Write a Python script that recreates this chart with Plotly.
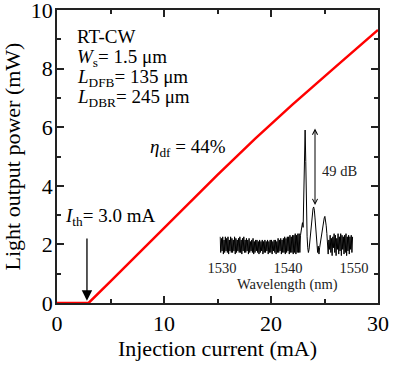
import plotly.graph_objects as go

# Main L-I curve
current_mA = [0, 1, 2, 2.95, 5, 9, 12, 15, 18.5, 22, 26, 30]
power_mW = [0, 0, 0, 0.0, 0.74, 2.20, 3.29, 4.37, 5.60, 6.77, 8.05, 9.32]

# Inset spectrum (dB, relative to main peak), sampled every 0.1 nm from 1529.7 nm
spec_start_nm = 1529.7
spec_step_nm = 0.1
spec_dB = [
    -68, -78, -69, -77, -68, -79, -70, -78, -68, -77, -69, -78, -68, -79, -70, -77, -68, -78, -69, -78,
    -70, -77, -68, -79, -69, -78, -70, -77, -69, -78, -68, -78, -70, -79, -69, -77, -68, -78, -70, -78,
    -69, -77, -70, -79, -69, -78, -71, -77, -70, -78, -69, -79, -71, -78, -70, -77, -70, -78, -71, -79,
    -70, -78, -71, -77, -70, -79, -71, -78, -70, -78, -71, -77, -70, -79, -71, -78, -70, -78, -70, -79,
    -71, -77, -70, -78, -70, -79, -71, -78, -69, -78, -70, -77, -69, -79, -70, -78, -69, -78, -68, -79,
    -69, -78, -68, -77, -68, -79, -67, -78, -68, -78, -67, -79, -67, -78, -66, -79, -67, -78, -66, -78,
    -66, -78, -67,
    -64, -61, -59, -62, -45, -12, 0, -20, -58, -68, -75, -78, -76, -72, -66, -60, -56, -52, -50, -49,
    -51, -56, -61, -66, -72, -78, -74, -79, -75, -72, -68, -65, -62, -59, -57, -56, -55, -57, -61, -66,
    -72, -79, -70, -76, -67, -78, -69, -80, -68, -75, -66, -78, -67, -80, -69, -76, -66, -79, -68, -77,
    -66, -80, -67, -76, -68, -79, -67, -78, -66, -80, -68, -77, -67, -79, -68, -76, -67, -78, -68,
]
spec_nm = [round(spec_start_nm + spec_step_nm * i, 2) for i in range(len(spec_dB))]

x_ticks = [0, 10, 20, 30]
y_ticks = [0, 2, 4, 6, 8, 10]
inset_ticks = [1530, 1540, 1550]

FONT = "Liberation Serif, Times New Roman, serif"

fig = go.Figure()
fig.add_trace(go.Scatter(x=current_mA, y=power_mW, mode="lines",
                         line=dict(color="#ff0000", width=2.5),
                         cliponaxis=False, showlegend=False))
fig.add_trace(go.Scatter(x=spec_nm, y=spec_dB, mode="lines",
                         line=dict(color="black", width=1),
                         xaxis="x2", yaxis="y2", showlegend=False))

axis_common = dict(showline=True, linecolor="#222", linewidth=1.5, mirror="ticks",
                   ticks="inside", ticklen=7, tickwidth=1.5, tickcolor="#222",
                   showgrid=False, zeroline=False, ticklabeloverflow="allow", automargin=False,
                   tickfont=dict(family=FONT, size=22, color="black"))

fig.update_layout(
    width=394, height=365,
    margin=dict(l=57, r=16, t=10, b=62, autoexpand=False),
    paper_bgcolor="white", plot_bgcolor="rgba(0,0,0,0)",
    font=dict(family=FONT, color="black"),
    xaxis=dict(range=[0, 30], tickvals=x_ticks, layer="below traces",
               minor=dict(dtick=5, ticks="inside", ticklen=4, tickwidth=1.5, tickcolor="#222"),
               title=dict(text="Injection current (mA)", font=dict(family=FONT, size=22), standoff=0),
               **axis_common),
    yaxis=dict(range=[0, 10], tickvals=y_ticks, layer="below traces", ticklabelstandoff=-2,
               minor=dict(dtick=1, ticks="inside", ticklen=4, tickwidth=1.5, tickcolor="#222"),
               title=dict(text="Light output power (mW)", font=dict(family=FONT, size=22), standoff=4),
               **axis_common),
    xaxis2=dict(domain=[0.506, 0.929], range=[1529.6, 1550.2], anchor="y2", automargin=False,
                tickvals=inset_ticks, showline=False, ticks="", showgrid=False, zeroline=False,
                tickfont=dict(family=FONT, size=14.5, color="#222"),
                title=dict(text="Wavelength (nm)", font=dict(family=FONT, size=14.5, color="#222"), standoff=2)),
    yaxis2=dict(domain=[0.1536, 0.6075], range=[-81.5, 3.2], anchor="x2", automargin=False,
                visible=False, showgrid=False, zeroline=False),
)

txt = dict(family=FONT, size=19, color="black")
lines = [
    ("RT-CW", 9.08),
    ("<i>W</i><sub>s</sub>= 1.5 μm", 8.36),
    ("<i>L</i><sub>DFB</sub>= 135 μm", 7.68),
    ("<i>L</i><sub>DBR</sub>= 245 μm", 7.0),
]
for t, yv in lines:
    fig.add_annotation(x=1.68, y=yv, xref="x", yref="y", text=t, showarrow=False,
                       xanchor="left", yanchor="middle", font=txt)

fig.add_annotation(x=8.5, y=5.29, xref="x", yref="y", text="<i>η</i><sub>df</sub> = 44%",
                   showarrow=False, xanchor="left", yanchor="middle", font=txt)
fig.add_annotation(x=0.56, y=2.94, xref="x", yref="y", text="<i>I</i><sub>th</sub>= 3.0 mA",
                   showarrow=False, xanchor="left", yanchor="middle", font=txt)
# threshold arrow
fig.add_annotation(x=2.8, y=0.08, ax=2.8, ay=2.25, xref="x", yref="y", axref="x", ayref="y",
                   text="", showarrow=True, arrowhead=2, arrowsize=1.6, arrowwidth=1.3,
                   arrowcolor="black")
# SMSR arrow in inset
fig.add_annotation(x=1544.1, y=-47.8, ax=1544.1, ay=1.9, xref="x2", yref="y2", axref="x2", ayref="y2",
                   text="", showarrow=True, arrowhead=5, startarrowhead=5, arrowside="end+start",
                   arrowsize=1, arrowwidth=1, arrowcolor="black")
fig.add_annotation(x=1544.8, y=-26, xref="x2", yref="y2", text="49 dB", showarrow=False,
                   xanchor="left", yanchor="middle", font=dict(family=FONT, size=14.5, color="#222"))

fig.write_html("out.html", config={"displayModeBar": False},
               post_script="document.body.style.margin='0';document.body.style.overflow='hidden';")
